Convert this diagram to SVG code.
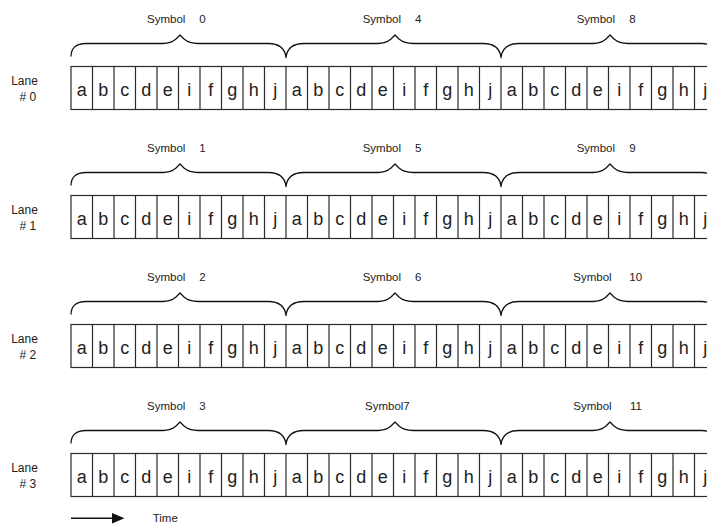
<svg xmlns="http://www.w3.org/2000/svg" xmlns:xlink="http://www.w3.org/1999/xlink" width="707" height="524" viewBox="0 0 707 524">
<style>
.lbl{font-family:"Liberation Sans",Arial,sans-serif;font-size:11.5px;fill:#222}
.lane{font-family:"Liberation Sans",Arial,sans-serif;font-size:12px;fill:#222;text-anchor:middle}
.cell{font-family:"Liberation Sans",Arial,sans-serif;font-size:18px;fill:#222;text-anchor:middle}
.box{fill:#fff;stroke:#2a2a2a;stroke-width:1.2}
.div{fill:none;stroke:#2a2a2a;stroke-width:1.2}
.brace{fill:none;stroke:#111;stroke-width:1.3;stroke-linejoin:round}
</style>
<defs>
<g id="row">
<rect class="box" x="71" y="0" width="645" height="43"/>
<path class="div" d="M92.5 0v43M114 0v43M135.5 0v43M157 0v43M178.5 0v43M200 0v43M221.5 0v43M243 0v43M264.5 0v43M286 0v43M307.5 0v43M329 0v43M350.5 0v43M372 0v43M393.5 0v43M415 0v43M436.5 0v43M458 0v43M479.5 0v43M501 0v43M522.5 0v43M544 0v43M565.5 0v43M587 0v43M608.5 0v43M630 0v43M651.5 0v43M673 0v43M694.5 0v43"/>
<text class="cell" y="29" x="81.75 103.25 124.75 146.25 167.75 189.25 210.75 232.25 253.75 275.25">abcdeifghj</text>
<text class="cell" y="29" x="296.75 318.25 339.75 361.25 382.75 404.25 425.75 447.25 468.75 490.25">abcdeifghj</text>
<text class="cell" y="29" x="511.75 533.25 554.75 576.25 597.75 619.25 640.75 662.25 683.75 705.25">abcdeifghj</text>
</g>
<path id="brace" class="brace" d="M71 -10 C71 -18 76 -23 86 -23 H163 C170 -23 173 -25 176 -27.5 L180 -31.5 L184 -27.5 C187 -25 190 -23 198 -23 H268 C280 -23 285 -18 286 -9 C287 -18 292 -23 304 -23 H378 C385 -23 388 -25 391 -27.5 L395 -31.5 L399 -27.5 C402 -25 405 -23 413 -23 H483 C495 -23 500 -18 501 -9 C502 -18 507 -23 519 -23 H593 C600 -23 603 -25 606 -27.5 L610 -31.5 L614 -27.5 C617 -25 620 -23 628 -23 H702 C711 -23 716 -18 716 -10"/>
</defs>

<g id="lane0" transform="translate(0,66.5)">
<text class="lane" x="24.5" y="18">Lane</text>
<text class="lane" x="27.8" y="34"># 0</text>
<use xlink:href="#row" href="#row"/>
</g>
<g id="lane1" transform="translate(0,195.5)">
<text class="lane" x="24.5" y="18">Lane</text>
<text class="lane" x="27.8" y="34"># 1</text>
<use xlink:href="#row" href="#row"/>
</g>
<g id="lane2" transform="translate(0,324.5)">
<text class="lane" x="24.5" y="18">Lane</text>
<text class="lane" x="27.8" y="34"># 2</text>
<use xlink:href="#row" href="#row"/>
</g>
<g id="lane3" transform="translate(0,453.5)">
<text class="lane" x="24.5" y="18">Lane</text>
<text class="lane" x="27.8" y="34"># 3</text>
<use xlink:href="#row" href="#row"/>
</g>

<g id="connectors">
<use xlink:href="#brace" href="#brace" transform="translate(0,66.5)"/>
<use xlink:href="#brace" href="#brace" transform="translate(0,195.5)"/>
<use xlink:href="#brace" href="#brace" transform="translate(0,324.5)"/>
<use xlink:href="#brace" href="#brace" transform="translate(0,453.5)"/>
<g id="time-arrow">
<line x1="71" y1="518.3" x2="114" y2="518.3" stroke="#111" stroke-width="1.4"/>
<polygon points="112,513 124.5,518.3 112,523.6" fill="#111"/>
</g>
</g>

<g id="symbols">
<text id="sym0" class="lbl" x="147" y="22.5">Symbol <tspan x="199.3">0</tspan></text>
<text id="sym4" class="lbl" x="362.7" y="22.5">Symbol <tspan x="415">4</tspan></text>
<text id="sym8" class="lbl" x="576.7" y="22.5">Symbol <tspan x="629.3">8</tspan></text>
<text id="sym1" class="lbl" x="147" y="151.5">Symbol <tspan x="199.3">1</tspan></text>
<text id="sym5" class="lbl" x="362.7" y="151.5">Symbol <tspan x="415">5</tspan></text>
<text id="sym9" class="lbl" x="576.7" y="151.5">Symbol <tspan x="629.3">9</tspan></text>
<text id="sym2" class="lbl" x="147" y="280.5">Symbol <tspan x="199.3">2</tspan></text>
<text id="sym6" class="lbl" x="362.7" y="280.5">Symbol <tspan x="415">6</tspan></text>
<text id="sym10" class="lbl" x="573.3" y="280.5">Symbol <tspan x="629.3">10</tspan></text>
<text id="sym3" class="lbl" x="147" y="409.5">Symbol <tspan x="199.3">3</tspan></text>
<text id="sym7" class="lbl" x="365" y="409.5">Symbol7</text>
<text id="sym11" class="lbl" x="573.3" y="409.5">Symbol <tspan x="630">11</tspan></text>
</g>

<text id="time" class="lbl" x="152.7" y="521.7">Time</text>
</svg>
